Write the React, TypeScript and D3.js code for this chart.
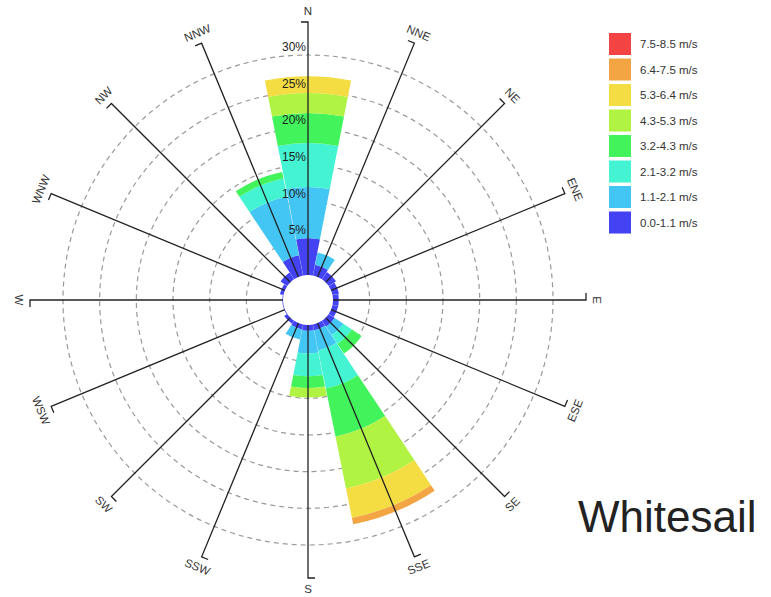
import React from "react";
import * as d3 from "d3";

const directions = ["N", "NNE", "NE", "ENE", "E", "ESE", "SE", "SSE", "S", "SSW", "SW", "WSW", "W", "WNW", "NW", "NNW"];
const speedBins = ["0.0-1.1 m/s", "1.1-2.1 m/s", "2.1-3.2 m/s", "3.2-4.3 m/s", "4.3-5.3 m/s", "5.3-6.4 m/s", "6.4-7.5 m/s", "7.5-8.5 m/s"];
const binColors = ["#4343f3", "#43c6f3", "#43f3d2", "#43f35c", "#b0f343", "#f3dd43", "#f3a443", "#f34343"];

// frequency (%) per direction for each speed bin
const bin0 = [5.0, 1.5, 1.2, 0.9, 0.8, 0.8, 1.0, 0.8, 0.8, 0.7, 0.5, 0.1, 0.1, 0.5, 1.1, 2.8];
const bin1 = [7.0, 1.7, 0, 0, 0, 0, 1.4, 2.8, 3.1, 1.4, 0, 0, 0, 0, 0, 8.2];
const bin2 = [6.0, 0, 0, 0, 0, 0, 1.4, 5.3, 3.1, 0, 0, 0, 0, 0, 0, 2.5];
const bin3 = [4.1, 0, 0, 0, 0, 0, 1.6, 6.7, 1.6, 0, 0, 0, 0, 0, 0, 0.9];
const bin4 = [2.7, 0, 0, 0, 0, 0, 0, 7.2, 1.3, 0, 0, 0, 0, 0, 0, 0];
const bin5 = [2.3, 0, 0, 0, 0, 0, 0, 4.1, 0, 0, 0, 0, 0, 0, 0, 0];
const bin6 = [0, 0, 0, 0, 0, 0, 0, 0.9, 0, 0, 0, 0, 0, 0, 0, 0];
const bin7 = [0, 0, 0, 0, 0, 0, 0, 0, 0, 0, 0, 0, 0, 0, 0, 0];
const bins = [bin0, bin1, bin2, bin3, bin4, bin5, bin6, bin7];

const gridTicks = [5, 10, 15, 20, 25, 30];
const title = "Whitesail";

const W = 771;
const H = 597;
const cx = 308;
const cy = 300;
const holeR = 25;
const axisLen = 278;
const labelR = 289;
const FONT = "'Liberation Sans', Arial, sans-serif";

export default function App() {
  const r = d3.scaleLinear().domain([0, 30]).range([holeR, 245]);
  const step = 360 / directions.length;
  const half = (11.1 * Math.PI) / 180;
  const arc = d3.arc<any>();

  const petals: JSX.Element[] = [];
  directions.forEach((dir, i) => {
    const ang = (i * step * Math.PI) / 180;
    let cum = 0;
    bins.forEach((b, k) => {
      const v = b[i];
      if (v <= 0) return;
      const d = arc({
        innerRadius: r(cum),
        outerRadius: r(cum + v),
        startAngle: ang - half,
        endAngle: ang + half,
      } as any);
      cum += v;
      petals.push(<path key={`${dir}-${k}`} d={d || ""} fill={binColors[k]} />);
    });
  });

  const axes = directions.map((dir, i) => {
    const deg = i * step;
    const a = (deg * Math.PI) / 180;
    const ux = Math.sin(a);
    const uy = -Math.cos(a);
    const x1 = cx + ux * holeR;
    const y1 = cy + uy * holeR;
    const x2 = cx + ux * axisLen;
    const y2 = cy + uy * axisLen;
    const tx = -Math.cos(a) * 7;
    const ty = -Math.sin(a) * 7;
    const lx = cx + ux * labelR;
    const ly = cy + uy * labelR;
    let rot = deg % 180;
    if (rot > 90) rot -= 180;
    return (
      <g key={dir}>
        <path d={`M${x1},${y1}L${x2},${y2}L${x2 + tx},${y2 + ty}`} fill="none" stroke="#222" strokeWidth={1.3} />
        <text
          x={0}
          y={0}
          transform={`translate(${lx},${ly}) rotate(${rot})`}
          textAnchor="middle"
          dominantBaseline="central"
          fontSize={11.5}
          fill="#333"
          fontFamily={FONT}
        >
          {dir}
        </text>
      </g>
    );
  });

  return (
    <svg width={W} height={H} style={{ position: "absolute", left: 0, top: 0, background: "#fff" }}>
      <rect x={0} y={0} width={W} height={H} fill="#fff" />
      {gridTicks.map((t) => (
        <circle key={t} cx={cx} cy={cy} r={r(t)} fill="none" stroke="#999" strokeWidth={1.2} strokeDasharray="5,4" />
      ))}
      <g transform={`translate(${cx},${cy})`}>{petals}</g>
      {axes}
      <circle cx={cx} cy={cy} r={holeR - 0.5} fill="#fff" />
      {gridTicks.map((t) => (
        <text key={t} x={306} y={cy - r(t) - 4} textAnchor="end" fontSize={12} fill="#222" fontFamily={FONT}>
          {t}%
        </text>
      ))}
      <g>
        {speedBins
          .map((s, k) => ({ s, k }))
          .reverse()
          .map(({ s, k }, j) => (
            <g key={s} transform={`translate(609,${33 + j * 25.5})`}>
              <rect x={0} y={0} width={22} height={22} fill={binColors[k]} />
              <text x={31} y={15} fontSize={11.5} fill="#333" fontFamily={FONT}>
                {s}
              </text>
            </g>
          ))}
      </g>
      <text x={578} y={532} fontSize={44} fill="#222" fontFamily={FONT}>
        {title}
      </text>
    </svg>
  );
}
